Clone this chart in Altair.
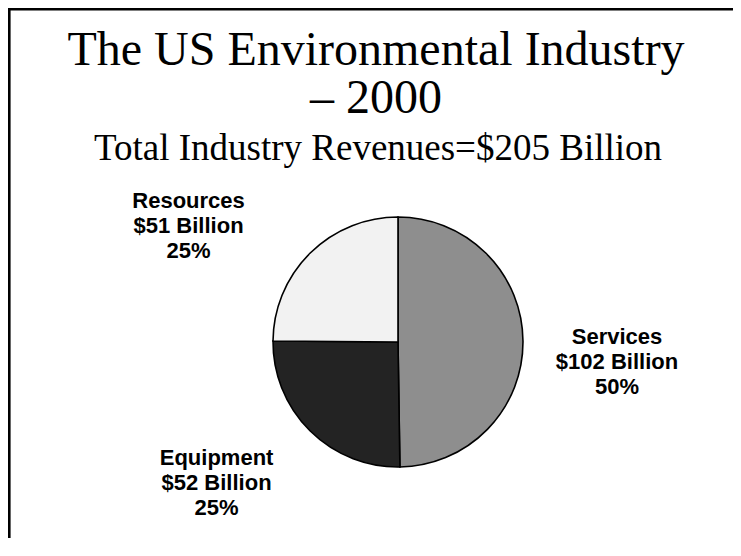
import altair as alt
import pandas as pd

# ---- data ----
categories = ["Services", "Equipment", "Resources"]
revenues = [102, 52, 51]          # $ billion
shares = [50, 25, 25]             # percent
title_lines = ["The US Environmental Industry", "\u2013 2000"]
subtitle_text = "Total Industry Revenues=$205 Billion"

total = sum(revenues)

# ---- styling ----
fills = ["#8e8e8e", "#232323", "#f2f2f2"]
PIE_R = 125
LABEL_R = 215
label_offsets = {          # fine placement of each label block (px)
    "Services": (4, -3),
    "Equipment": (-30, -37),
    "Resources": (-58, 12),
}

W, H = 670, 344
PAD = {"left": 55, "top": 162, "right": 0, "bottom": 24}

df = pd.DataFrame({
    "category": categories,
    "revenue": revenues,
    "share": shares,
    "idx": list(range(len(categories))),
})
df["label"] = [f"{c}\n${v} Billion\n{p}%" for c, v, p in zip(categories, revenues, shares)]

theta_scale = alt.Scale(domain=[0, total])

base = alt.Chart(df)

arcs = base.mark_arc(outerRadius=PIE_R, stroke="black", strokeWidth=1.6).encode(
    theta=alt.Theta("revenue:Q", stack=True, scale=theta_scale),
    color=alt.Color("category:N", scale=alt.Scale(domain=categories, range=fills), legend=None),
    order=alt.Order("idx:Q"),
)

label_layers = []
for cat in categories:
    dx, dy = label_offsets[cat]
    lay = (
        base.transform_window(cum="sum(revenue)", sort=[alt.SortField("idx")], frame=[None, 0])
        .transform_calculate(mid="datum.cum - datum.revenue / 2")
        .transform_filter(alt.datum.category == cat)
        .mark_text(
            radius=LABEL_R, dx=dx, dy=dy, lineBreak="\n",
            font="Liberation Sans", fontSize=22, fontWeight="bold", lineHeight=25,
            align="center", baseline="middle", color="black",
        )
        .encode(
            theta=alt.Theta("mid:Q", stack=None, scale=theta_scale),
            text="label:N",
        )
    )
    label_layers.append(lay)

title_df = pd.DataFrame({"t": ["\n".join(title_lines)]})
title_mark = alt.Chart(title_df).mark_text(
    font="Liberation Serif", fontSize=48, lineHeight=48, lineBreak="\n",
    align="center", baseline="alphabetic", color="black",
).encode(text="t:N", x=alt.value(313), y=alt.value(-105))

sub_df = pd.DataFrame({"t": [subtitle_text]})
sub_mark = alt.Chart(sub_df).mark_text(
    font="Liberation Serif", fontSize=37,
    align="center", baseline="alphabetic", color="black",
).encode(text="t:N", x=alt.value(315), y=alt.value(-10))

# slide frame (top and left edges visible in the reference)
frame_top = alt.Chart(sub_df).mark_rule(color="black", strokeWidth=2.6).encode(
    x=alt.value(-PAD["left"]), x2=alt.value(W + 10), y=alt.value(-PAD["top"] + 1.3)
)
frame_left = alt.Chart(sub_df).mark_rule(color="black", strokeWidth=2.6).encode(
    x=alt.value(-PAD["left"] + 1.3), y=alt.value(-PAD["top"]), y2=alt.value(H + PAD["bottom"] + 10)
)

chart = alt.layer(arcs, *label_layers, title_mark, sub_mark, frame_top, frame_left).properties(
    width=W, height=H, padding=PAD, autosize=alt.AutoSizeParams(type="none"),
    background="white",
).configure_view(stroke=None)

chart.save("out.html", embed_options={"renderer": "svg", "actions": False})
